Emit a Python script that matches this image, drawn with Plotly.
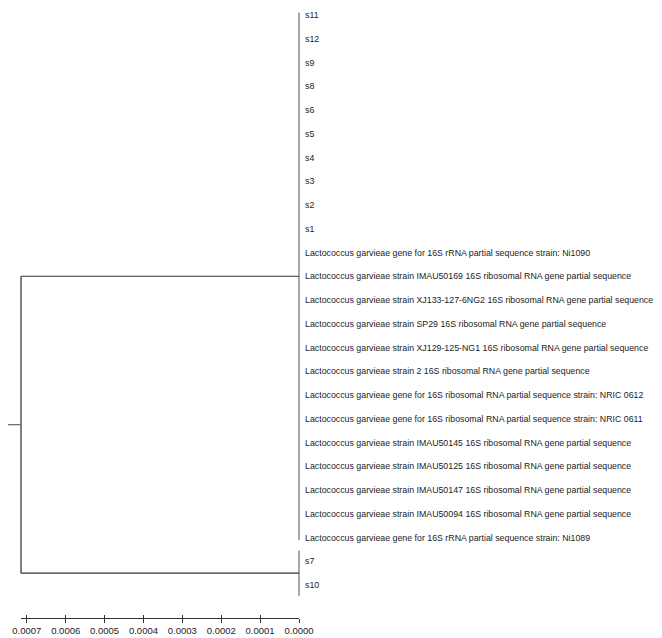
import plotly.graph_objects as go

# ---- data ----
leaf_labels = [
    "s11", "s12", "s9", "s8", "s6", "s5", "s4", "s3", "s2", "s1",
    "Lactococcus garvieae gene for 16S rRNA partial sequence strain: Ni1090",
    "Lactococcus garvieae strain IMAU50169 16S ribosomal RNA gene partial sequence",
    "Lactococcus garvieae strain XJ133-127-6NG2 16S ribosomal RNA gene partial sequence",
    "Lactococcus garvieae strain SP29 16S ribosomal RNA gene partial sequence",
    "Lactococcus garvieae strain XJ129-125-NG1 16S ribosomal RNA gene partial sequence",
    "Lactococcus garvieae strain 2 16S ribosomal RNA gene partial sequence",
    "Lactococcus garvieae gene for 16S ribosomal RNA partial sequence strain: NRIC 0612",
    "Lactococcus garvieae gene for 16S ribosomal RNA partial sequence strain: NRIC 0611",
    "Lactococcus garvieae strain IMAU50145 16S ribosomal RNA gene partial sequence",
    "Lactococcus garvieae strain IMAU50125 16S ribosomal RNA gene partial sequence",
    "Lactococcus garvieae strain IMAU50147 16S ribosomal RNA gene partial sequence",
    "Lactococcus garvieae strain IMAU50094 16S ribosomal RNA gene partial sequence",
    "Lactococcus garvieae gene for 16S rRNA partial sequence strain: Ni1089",
    "s7", "s10",
]
# clade membership (leaf indices) and node heights
clade_a_leaves = list(range(0, 23))
clade_b_leaves = [23, 24]
clade_a_height = 0.0
clade_b_height = 0.0
root_height = 0.000715
root_stem_top = 0.000756
tick_values = [0.0007, 0.0006, 0.0005, 0.0004, 0.0003, 0.0002, 0.0001, 0.0]
tick_labels = ["0.0007", "0.0006", "0.0005", "0.0004", "0.0003", "0.0002", "0.0001", "0.0000"]

# page body has an 8px default margin; size the figure to the visible area
OFF = 8
W, H = 662 - OFF, 638 - OFF
FONT = "Liberation Sans, Arial, sans-serif"
DARK = "#333333"
LIGHT = "#8a8a8a"

fig = go.Figure()

def seg(x, y, color, width):
    fig.add_trace(go.Scatter(x=x, y=y, mode="lines", xaxis="x", yaxis="y",
                             line=dict(color=color, width=width),
                             hoverinfo="skip", showlegend=False))

a_mid = (clade_a_leaves[0] + clade_a_leaves[-1]) / 2
b_mid = (clade_b_leaves[0] + clade_b_leaves[-1]) / 2
root_mid = (a_mid + b_mid) / 2

# clade verticals at leaf level
seg([clade_a_height, clade_a_height], [clade_a_leaves[0] - 0.1, clade_a_leaves[-1] + 0.1], LIGHT, 1.5)
seg([clade_b_height, clade_b_height], [clade_b_leaves[0] - 0.45, clade_b_leaves[-1] + 0.45], LIGHT, 1.5)
# horizontals to root
seg([clade_a_height, root_height], [a_mid, a_mid], DARK, 1.2)
seg([clade_b_height, root_height], [b_mid, b_mid], DARK, 1.2)
# root vertical
seg([root_height, root_height], [a_mid, b_mid], "#555555", 1.5)
# root stem
seg([root_height, root_stem_top], [root_mid, root_mid], "#666666", 1.2)

# leaf labels
for i, lab in enumerate(leaf_labels):
    fig.add_annotation(x=0.0, y=i, xref="x", yref="y", text=lab, showarrow=False,
                       xanchor="left", yanchor="middle", xshift=4,
                       font=dict(family=FONT, size=8.8, color="#222222"))

# scale axis traces (invisible) on x2 / x3
for ax in ("x2", "x3"):
    fig.add_trace(go.Scatter(x=[root_height, 0.0], y=[None, None], xaxis=ax, yaxis="y",
                             mode="lines", hoverinfo="skip", showlegend=False))

zero_px = 299 - OFF
root_px = 21 - OFF
px_per_unit = (zero_px - root_px) / root_height
left_val = zero_px / px_per_unit
right_val = -(W - zero_px) / px_per_unit
leaf_px0, leaf_step = 15.0 - OFF, 23.75
y_top = -leaf_px0 / leaf_step
y_bot = (H - leaf_px0) / leaf_step
axis_px = 618 - OFF

scale_common = dict(domain=[root_px / W, zero_px / W], range=[root_height, 0.0],
                    anchor="free", position=1 - axis_px / H, automargin=False,
                    tickcolor=DARK, tickwidth=1, tickvals=tick_values,
                    showgrid=False, zeroline=False)

fig.update_layout(
    template="none",
    width=W, height=H,
    margin=dict(l=0, r=0, t=0, b=0, pad=0, autoexpand=False),
    paper_bgcolor="white", plot_bgcolor="rgba(0,0,0,0)",
    xaxis=dict(visible=False, range=[left_val, right_val], domain=[0, 1], automargin=False),
    yaxis=dict(visible=False, range=[y_bot, y_top], domain=[0, 1], automargin=False),
    xaxis2=dict(**scale_common, showline=True, linecolor=DARK, linewidth=1,
                ticks="outside", ticklen=4, ticktext=tick_labels,
                tickfont=dict(family=FONT, size=9.5, color="#222222")),
    xaxis3=dict(**scale_common, showline=False, ticks="inside", ticklen=3,
                showticklabels=False),
)

fig.write_html("out.html")
